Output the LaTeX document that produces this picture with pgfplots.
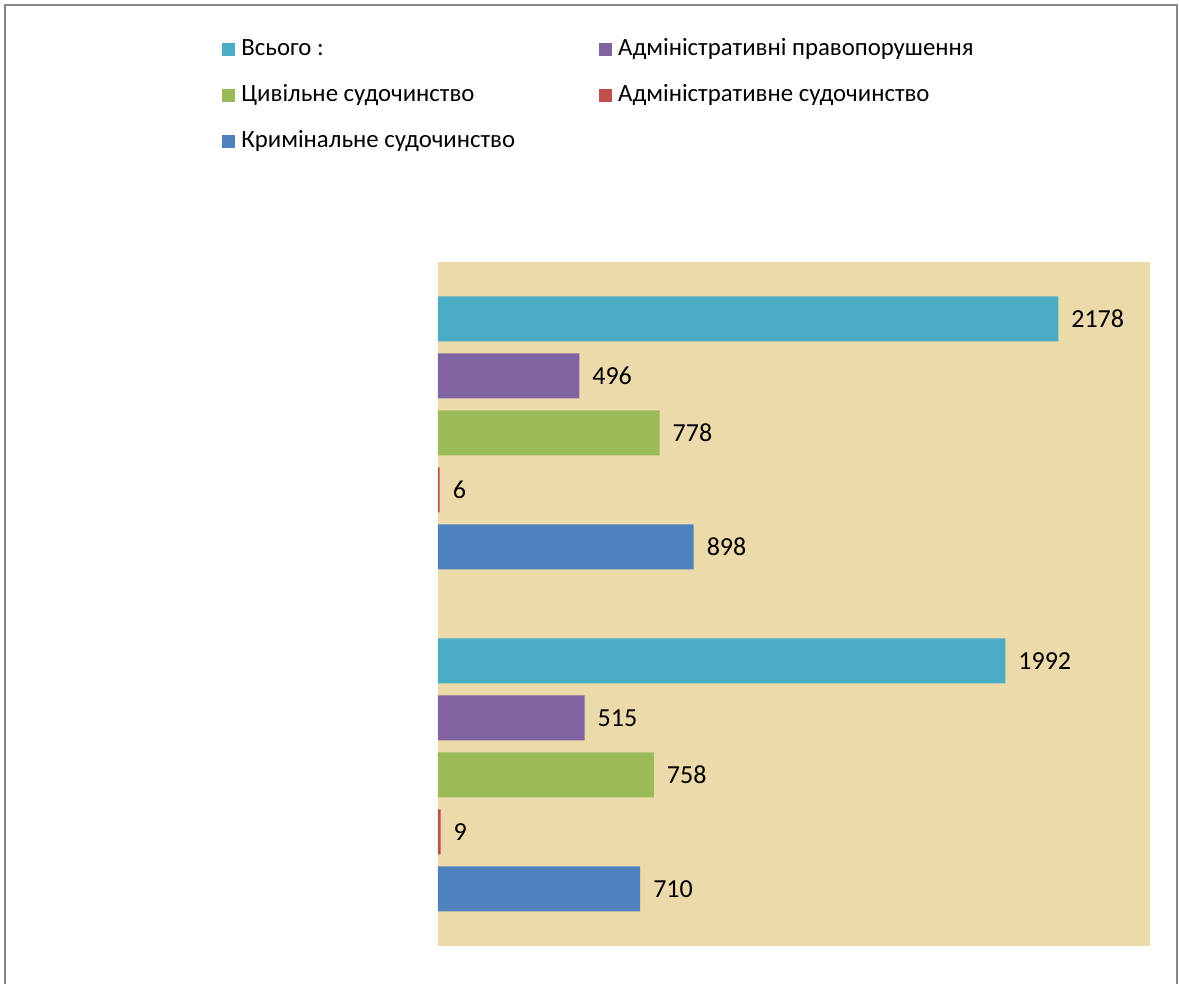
\documentclass[border=0pt]{standalone}
\usepackage{pgfplots}
\pgfplotsset{compat=1.18}
\usepackage{fontspec}
\setmainfont{Carlito}

\definecolor{cVsogo}{RGB}{75,172,198}
\definecolor{cAdmPr}{RGB}{128,100,162}
\definecolor{cCyv}{RGB}{155,187,89}
\definecolor{cAdmSud}{RGB}{192,80,77}
\definecolor{cKrym}{RGB}{79,129,189}
\definecolor{papyrus}{RGB}{237,218,170}
\definecolor{frame}{RGB}{136,136,136}

% rows: 10..6 first group, 4..0 second group
\begin{document}
\begin{tikzpicture}
\useasboundingbox (-219pt,-19pt) rectangle (370.5pt,473pt);
\draw[frame, line width=1pt] (-216.5pt,-19pt) -- (-216.5pt,470.5pt) -- (369.5pt,470.5pt) -- (369.5pt,-19pt);
\begin{axis}[
    scale only axis,
    width=356pt, height=342pt,
    xmin=0, xmax=2500,
    ymin=-1, ymax=11,
    xtick=\empty, ytick=\empty,
    axis line style={draw=none},
    axis background/.style={fill=papyrus},
    xbar, bar shift=0pt, bar width=22.5pt,
    every axis plot/.append style={draw=none},
    nodes near coords,
    nodes near coords align={horizontal},
    /pgf/number format/assume math mode=true,
    /pgf/number format/1000 sep={},
    every node near coord/.append style={font=\fontsize{13}{15}\selectfont, text=black, xshift=3pt},
    legend columns=2,
    legend cell align=left,
    legend image code/.code={\fill[#1] (0pt,-3.25pt) rectangle (6.5pt,3.25pt); \path (8.5pt,0pt);},
    legend style={draw=none, fill=none, inner sep=0pt,
        at={(-0.3034,1.332)}, anchor=north west,
        font=\fontsize{12.4}{15}\selectfont,
        row sep=9pt,
        nodes={text height=9pt, text depth=3pt, inner sep=1pt},
        /tikz/every even column/.append style={column sep=41pt}},
]
\addplot[fill=cVsogo] coordinates {(2178,10) (1992,4)};
\addlegendentry{Всього :}
\addplot[fill=cAdmPr] coordinates {(496,9) (515,3)};
\addlegendentry{Адміністративні правопорушення}
\addplot[fill=cCyv] coordinates {(778,8) (758,2)};
\addlegendentry{Цивільне судочинство}
\addplot[fill=cAdmSud] coordinates {(6,7) (9,1)};
\addlegendentry{Адміністративне судочинство}
\addplot[fill=cKrym] coordinates {(898,6) (710,0)};
\addlegendentry{Кримінальне судочинство}
\end{axis}
\end{tikzpicture}
\end{document}
